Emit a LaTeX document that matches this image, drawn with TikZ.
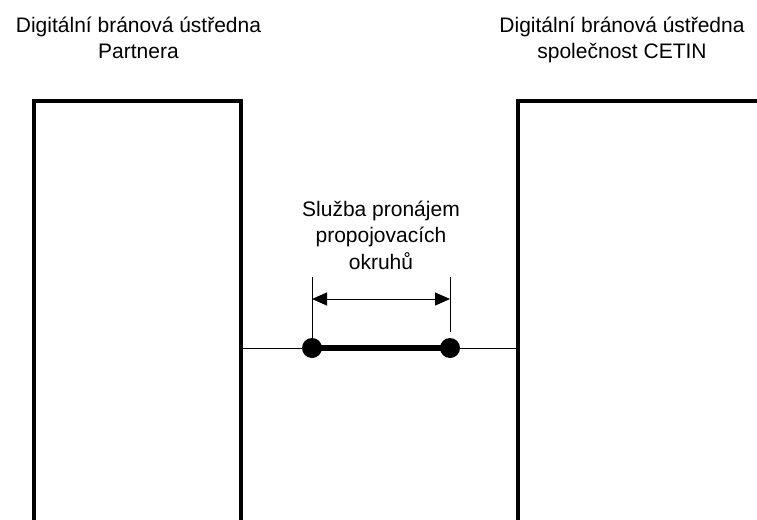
\documentclass[tikz,border=0pt]{standalone}
\usepackage{fontspec}
\setmainfont{Liberation Sans}
\usetikzlibrary{arrows.meta}
\begin{document}
\begin{tikzpicture}[x=1pt,y=-1pt,
  boxline/.style={line width=4pt,line cap=butt,line join=miter},
  thin/.style={line width=1pt},
  dot/.style={circle,fill=black,draw=none,minimum size=20pt,inner sep=0pt},
  label/.style={align=center,inner sep=0pt,font=\fontsize{21}{26.5}\selectfont}]
\useasboundingbox (0,0) rectangle (757,519);
\clip (0,0) rectangle (757,519);
% boxes
\coordinate (la) at (34,525);
\coordinate (lb) at (34,101);
\coordinate (lc) at (241,101);
\coordinate (ld) at (241,525);
\coordinate (ra) at (518,525);
\coordinate (rb) at (518,101);
\coordinate (rc) at (765,101);
\draw[boxline] (la) -- (lb) -- (lc) -- (ld);
\draw[boxline] (ra) -- (rb) -- (rc);
% connection
\coordinate (lp) at (241,348);
\coordinate (rp) at (518,348);
\node[dot] (d1) at (312,348) {};
\node[dot] (d2) at (450,348) {};
\draw[thin] (lp) -- (d1.center);
\draw[thin] (d2.center) -- (rp);
\draw[line width=6pt] (d1.center) -- (d2.center);
% dimension
\coordinate (t1) at (312,277);
\coordinate (t2) at (450,277);
\coordinate (b2) at (450,332);
\coordinate (a1) at (312,299);
\coordinate (a2) at (450,299);
\draw[thin] (t1) -- (d1.center);
\draw[thin] (t2) -- (b2);
\draw[thin,{Triangle[length=15pt,width=13pt]}-{Triangle[length=15pt,width=13pt]}] (a1) -- (a2);
% texts
\node[label,anchor=base] (tl) at (138.5,59) {Digitální bránová ústředna\\Partnera};
\node[label,anchor=base] (tr) at (622,59) {Digitální bránová ústředna\\společnost CETIN};
\node[label,anchor=base] (tm) at (381,269) {Služba pronájem\\propojovacích\\okruhů};
\end{tikzpicture}
\end{document}
